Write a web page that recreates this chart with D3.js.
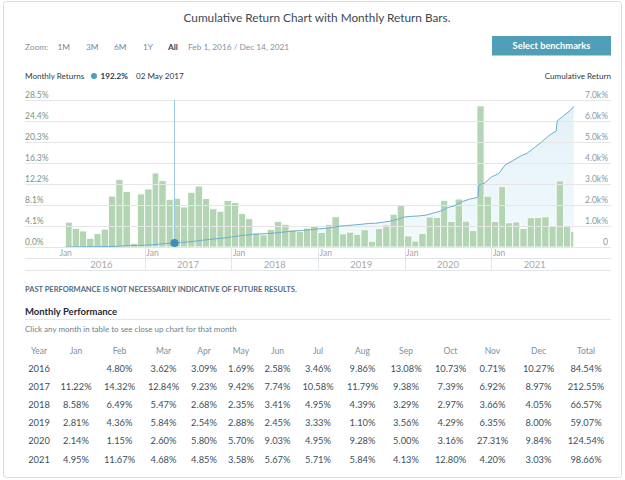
<!DOCTYPE html>
<html>
<head>
<meta charset="utf-8">
<script src="https://cdn.jsdelivr.net/npm/d3@7"></script>
<style>
  html, body { margin: 0; padding: 0; background: #fff; }
  svg { display: block; font-family: Lato, "Noto Sans", sans-serif; }
</style>
</head>
<body>
<svg id="chart" width="625" height="480"></svg>
<script>
// ---------------- DATA ----------------
const years = [2016, 2017, 2018, 2019, 2020, 2021];
const monthNames = ["Jan","Feb","Mar","Apr","May","Jun","Jul","Aug","Sep","Oct","Nov","Dec"];
const ret2016 = [null, 4.80, 3.62, 3.09, 1.69, 2.58, 3.46, 9.86, 13.08, 10.73, 0.71, 10.27];
const ret2017 = [11.22, 14.32, 12.84, 9.23, 9.42, 7.74, 10.58, 11.79, 9.38, 7.39, 6.92, 8.97];
const ret2018 = [8.58, 6.49, 5.47, 2.68, 2.35, 3.41, 4.95, 4.39, 3.29, 2.97, 3.66, 4.05];
const ret2019 = [2.81, 4.36, 5.84, 2.54, 2.88, 2.45, 3.33, 1.10, 3.56, 4.29, 6.35, 8.00];
const ret2020 = [2.14, 1.15, 2.60, 5.80, 5.70, 9.03, 4.95, 9.28, 5.00, 3.16, 27.31, 9.84];
const ret2021 = [4.95, 11.67, 4.68, 4.85, 3.58, 5.67, 5.71, 5.84, 4.13, 12.80, 4.20, 3.03];
const yearTotals = [84.54, 212.55, 66.57, 59.07, 124.54, 98.66];

// cumulative return line (%)
const cumDates = ["2016-02-01","2016-03-01","2016-04-01","2016-05-01","2016-06-01","2016-07-01","2016-08-01","2016-09-01","2016-10-01","2016-11-01","2016-12-01",
  "2017-01-01","2017-02-01","2017-03-01","2017-04-01","2017-05-01","2017-05-02","2017-06-01","2017-07-01","2017-08-01","2017-09-01","2017-10-01","2017-11-01","2017-12-01",
  "2018-01-01","2018-02-01","2018-03-01","2018-04-01","2018-05-01","2018-06-01","2018-07-01","2018-08-01","2018-09-01","2018-10-01","2018-11-01","2018-12-01",
  "2019-01-01","2019-02-01","2019-03-01","2019-04-01","2019-05-01","2019-06-01","2019-07-01","2019-08-01","2019-09-01","2019-10-01","2019-11-01","2019-12-01",
  "2020-01-01","2020-02-01","2020-03-01","2020-04-01","2020-05-01","2020-06-01","2020-07-01","2020-08-01","2020-09-01","2020-10-01","2020-11-01","2020-11-06","2020-11-09","2020-12-01",
  "2021-01-01","2021-02-01","2021-03-01","2021-04-01","2021-05-01","2021-06-01","2021-07-01","2021-08-01","2021-09-01","2021-10-01","2021-10-05","2021-11-01","2021-12-01","2021-12-14"];
const cumValues = [0, 4.8, 8.59, 11.95, 13.84, 16.78, 20.82, 32.73, 50.09, 66.2, 67.38,
  84.57, 105.28, 134.67, 164.8, 189.24, 192.2, 216.49, 240.99, 277.06, 321.52, 361.06, 395.13, 429.39,
  476.88, 526.38, 567.03, 603.52, 622.37, 639.35, 664.56, 702.4, 737.63, 765.19, 790.88, 823.49,
  860.89, 887.89, 930.96, 991.17, 1018.89, 1051.11, 1079.31, 1118.58, 1131.99, 1175.85, 1230.58, 1315.07,
  1428.28, 1460.98, 1478.94, 1519.99, 1613.95, 1711.64, 1875.23, 1973.01, 2165.38, 2278.65, 2353.82, 2400, 2960, 3023.95,
  3331.35, 3501.2, 3921.46, 4109.67, 4313.84, 4471.85, 4731.08, 5006.93, 5305.18, 5528.41, 6000, 6248.85, 6515.5, 6700];

const leftTickLabels = ["0.0%","4.1%","8.1%","12.2%","16.3%","20.3%","24.4%","28.5%"];
const leftMax = 28.45;
const rightTickValues = [0, 1000, 2000, 3000, 4000, 5000, 6000, 7000];
const rightTickLabels = ["0","1.0k%","2.0k%","3.0k%","4.0k%","5.0k%","6.0k%","7.0k%"];
const hoverDate = "2017-05-02";
const hoverLabel = "02 May 2017";
const hoverValue = "192.2%";
const hoverCum = 192.2;
const dataEnd = "2021-12-14";
const zoomButtons = ["1M","3M","6M","1Y","All"];

// ---------------- LAYOUT ----------------
const svg = d3.select("#chart");
const plot = { left: 25, right: 611, top: 100, bottom: 247 };
const parse = s => { const [y,m,d] = s.split("-").map(Number); return new Date(Date.UTC(y, m-1, d)); };

const x = d3.scaleUtc().domain([new Date(Date.UTC(2015,7,15)), new Date(Date.UTC(2022,4,20))]).range([plot.left, plot.right]);
const yL = d3.scaleLinear().domain([0, leftMax]).range([plot.bottom, plot.top]);
const yR = d3.scaleLinear().domain([0, 7000]).range([plot.bottom, plot.top]);

// card border
svg.append("rect").attr("x", 3.5).attr("y", 1.5).attr("width", 618).attr("height", 476)
  .attr("rx", 3).attr("fill", "none").attr("stroke", "#dcdcdc");

// title
svg.append("text").attr("x", 317).attr("y", 21.5).attr("text-anchor", "middle")
  .attr("font-size", 11.8).attr("fill", "#3d4a55").text("Cumulative Return Chart with Monthly Return Bars.");

// zoom row
const zr = svg.append("g").attr("font-size", 8.3).attr("fill", "#8493a0");
zr.append("text").attr("x", 25).attr("y", 49.5).text("Zoom:");
const zoomX = [57.5, 86, 114, 143, 168];
zoomButtons.forEach((b, i) => {
  zr.append("text").attr("x", zoomX[i]).attr("y", 49.5)
    .attr("fill", b === "All" ? "#34495a" : "#7088a0")
    .attr("font-weight", b === "All" ? "bold" : "normal").text(b);
});
zr.append("text").attr("x", 188).attr("y", 49.5).text("Feb 1, 2016 / Dec 14, 2021");

// button
svg.append("rect").attr("x", 492).attr("y", 36).attr("width", 119).attr("height", 19.5).attr("fill", "#4e9fb7");
svg.append("text").attr("x", 551.5).attr("y", 49).attr("text-anchor", "middle")
  .attr("font-size", 9.3).attr("font-weight", "bold").attr("fill", "#fff").text("Select benchmarks");

// legend / tooltip row
const lg = svg.append("g").attr("font-size", 8.1).attr("fill", "#2f3a44");
lg.append("text").attr("x", 25).attr("y", 79).text("Monthly Returns");
lg.append("circle").attr("cx", 94).attr("cy", 76).attr("r", 3).attr("fill", "#4aa0c2");
lg.append("text").attr("x", 100.5).attr("y", 79).attr("font-weight", "bold").text(hoverValue);
lg.append("text").attr("x", 136).attr("y", 79).text(hoverLabel);
lg.append("text").attr("x", 611).attr("y", 79).attr("text-anchor", "end").text("Cumulative Return");

// ---------------- PLOT ----------------
const defs = svg.append("defs");
const grad = defs.append("linearGradient").attr("id", "areaGrad").attr("x1", 0).attr("y1", 0).attr("x2", 0).attr("y2", 1);
grad.append("stop").attr("offset", "0%").attr("stop-color", "#cfe8f3").attr("stop-opacity", 0.6);
grad.append("stop").attr("offset", "100%").attr("stop-color", "#d8eef7").attr("stop-opacity", 0.35);

const cum = cumDates.map((d, i) => ({ date: parse(d), v: cumValues[i] }));

// area under cumulative line
svg.append("path").datum(cum)
  .attr("d", d3.area().x(d => x(d.date)).y0(yR(0)).y1(d => yR(d.v)))
  .attr("fill", "url(#areaGrad)");

// bars
const allReturns = [ret2016, ret2017, ret2018, ret2019, ret2020, ret2021];
const endDate = parse(dataEnd);
const bars = [];
years.forEach((yr, yi) => {
  allReturns[yi].forEach((v, m) => {
    if (v == null) return;
    const s = new Date(Date.UTC(yr, m, 1));
    let e = new Date(Date.UTC(yr, m + 1, 1));
    if (e > endDate) e = endDate;
    bars.push({ s, e, v });
  });
});
svg.append("g").selectAll("rect").data(bars).join("rect")
  .attr("x", d => x(d.s))
  .attr("width", d => x(d.e) - x(d.s))
  .attr("y", d => yL(d.v))
  .attr("height", d => yL(0) - yL(d.v))
  .attr("fill", "#b3d5b4")
  .attr("stroke", "#ffffff").attr("stroke-width", 0.8);

// gridlines (on top of bars)
svg.append("g").selectAll("line").data(rightTickValues.slice(1)).join("line")
  .attr("x1", plot.left).attr("x2", plot.right)
  .attr("y1", d => yR(d) + 0.5).attr("y2", d => yR(d) + 0.5)
  .attr("stroke", "#e6e6e6").attr("stroke-width", 1);

// cumulative line
svg.append("path").datum(cum)
  .attr("d", d3.line().x(d => x(d.date)).y(d => yR(d.v)))
  .attr("fill", "none").attr("stroke", "#6aafd0").attr("stroke-width", 1);

// left axis
const la = svg.append("g").attr("transform", `translate(${plot.left},0)`)
  .call(d3.axisRight(yL).tickValues(d3.range(8).map(i => i * leftMax / 7))
    .tickFormat((d, i) => leftTickLabels[i]).tickSize(0).tickPadding(0));
la.select(".domain").remove();
la.selectAll("text").attr("dy", -2.5).attr("font-size", 8.5).attr("fill", "#7a9582").attr("font-family", "Lato");

// right axis
const ra = svg.append("g").attr("transform", `translate(608,0)`)
  .call(d3.axisLeft(yR).tickValues(rightTickValues)
    .tickFormat((d, i) => rightTickLabels[i]).tickSize(0).tickPadding(0));
ra.select(".domain").remove();
ra.selectAll("text").attr("dy", -2.5).attr("font-size", 8.5).attr("fill", "#8a98a5").attr("font-family", "Lato");

// crosshair + hover point
const hx = Math.round(x(parse(hoverDate))) + 0.5;
svg.append("line").attr("x1", hx).attr("x2", hx).attr("y1", plot.top).attr("y2", plot.bottom)
  .attr("stroke", "#9ccbe3").attr("stroke-width", 1);
svg.append("circle").attr("cx", hx).attr("cy", yR(hoverCum)).attr("r", 4).attr("fill", "#3b8fba");

// x axis: two rows (month labels, year labels)
[plot.bottom, 258, 270].forEach(yy => {
  svg.append("line").attr("x1", plot.left).attr("x2", plot.right).attr("y1", yy + 0.5).attr("y2", yy + 0.5)
    .attr("stroke", "#e3e6e8");
});
const yearStarts = years.map(y => new Date(Date.UTC(y, 0, 1)));
const xa = svg.append("g").attr("transform", `translate(0,${plot.bottom})`)
  .call(d3.axisBottom(x).tickValues(yearStarts).tickFormat(() => "Jan").tickSize(0).tickPadding(0));
xa.select(".domain").remove();
xa.selectAll("text").attr("text-anchor", "start").attr("dx", 1).attr("dy", 0).attr("y", 9)
  .attr("font-size", 8.5).attr("fill", "#a3a3a3").attr("font-family", "Lato");
svg.append("g").selectAll("line").data(yearStarts.slice(1)).join("line")
  .attr("x1", d => Math.round(x(d)) + 0.5).attr("x2", d => Math.round(x(d)) + 0.5)
  .attr("y1", plot.bottom).attr("y2", 270).attr("stroke", "#e3e6e8");
svg.append("g").selectAll("text").data(years).join("text")
  .attr("x", y => (x(new Date(Date.UTC(y, 0, 1))) + x(new Date(Date.UTC(y + 1, 0, 1)))) / 2)
  .attr("y", 268).attr("text-anchor", "middle").attr("font-size", 9.5).attr("fill", "#a8a8a8")
  .text(y => y);

// ---------------- BELOW CHART ----------------
svg.append("text").attr("x", 25).attr("y", 292).attr("font-size", 7.5).attr("font-weight", "bold")
  .attr("fill", "#4f6e84").text("PAST PERFORMANCE IS NOT NECESSARILY INDICATIVE OF FUTURE RESULTS.");
svg.append("text").attr("x", 25).attr("y", 314.5).attr("font-size", 9.5).attr("font-weight", "bold")
  .attr("fill", "#1d2b38").text("Monthly Performance");
svg.append("line").attr("x1", 25).attr("x2", 611).attr("y1", 319.5).attr("y2", 319.5).attr("stroke", "#e6e6e6");
svg.append("text").attr("x", 25).attr("y", 332).attr("font-size", 8).attr("fill", "#6d7f8c")
  .text("Click any month in table to see close up chart for that month");

// table
const colX = [39, 76, 119.5, 163.5, 204, 241, 277.5, 318, 362.5, 406, 450.5, 492.5, 538.5, 586];
const headers = ["Year"].concat(monthNames, ["Total"]);
const tbl = svg.append("g").attr("text-anchor", "middle");
headers.forEach((h, i) => {
  tbl.append("text").attr("x", colX[i]).attr("y", 353.7).attr("font-size", 8.5).attr("fill", "#7d90a0").text(h);
});
years.forEach((yr, r) => {
  const yy = 372 + r * 18.1;
  const row = [String(yr)].concat(allReturns[r].map(v => v == null ? "" : v.toFixed(2) + "%"), [yearTotals[r].toFixed(2) + "%"]);
  row.forEach((t, i) => {
    tbl.append("text").attr("x", colX[i]).attr("y", yy).attr("font-size", 9.3).attr("fill", "#3b4f5c").text(t);
  });
});
</script>
</body>
</html>
